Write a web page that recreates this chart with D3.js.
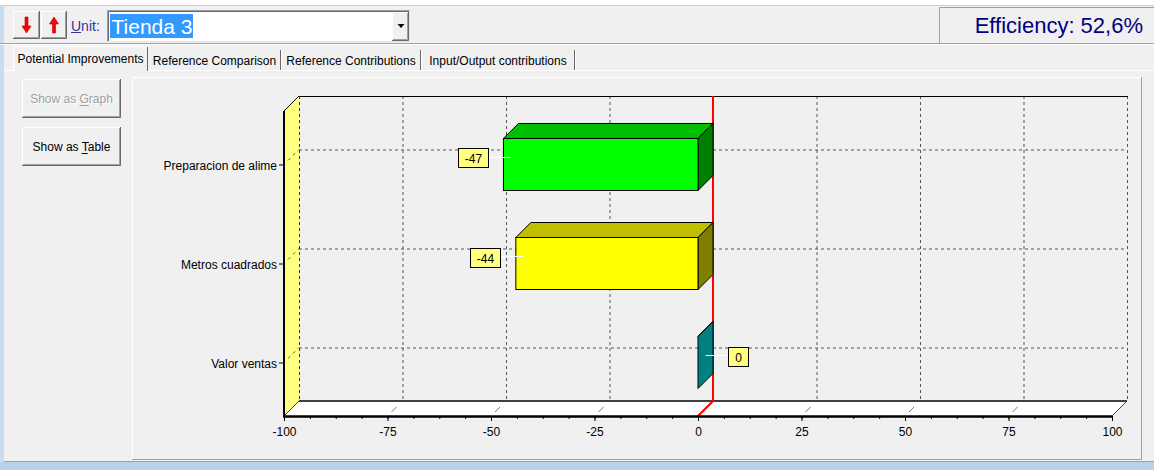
<!DOCTYPE html>
<html><head><meta charset="utf-8">
<script src="https://cdn.jsdelivr.net/npm/d3@7"></script>
<style>
html,body{margin:0;padding:0;background:#f0f0f0;overflow:hidden}
svg{display:block;font-family:"Liberation Sans",Arial,sans-serif}
</style>
</head><body>
<svg id="c" width="1154" height="470"></svg>
<script>
// ---------- data ----------
const categories = ["Preparacion de alime", "Metros cuadrados", "Valor ventas"];
const values = [-47, -44, 0];
const seriesColors = ["#00ff00", "#ffff00", "#00ffff"];
const xTickValues = [-100, -75, -50, -25, 0, 25, 50, 75, 100];
const unitName = "Tienda 3";
const efficiencyLabel = "Efficiency: 52,6%";
const tabLabels = ["Potential Improvements", "Reference Comparison", "Reference Contributions", "Input/Output contributions"];
const buttonLabels = ["Show as Graph", "Show as Table"];

const svg = d3.select("#c");
const fmt = v => String(Math.round(v));

// ---------- window chrome ----------
svg.append("rect").attr("x",0).attr("y",0).attr("width",1154).attr("height",470).attr("fill","#f0f0f0");
svg.append("rect").attr("x",0).attr("y",0).attr("width",1154).attr("height",5).attr("fill","#ffffff");
svg.append("rect").attr("x",0).attr("y",5).attr("width",1154).attr("height",1).attr("fill","#b9d1ea");
svg.append("rect").attr("x",0).attr("y",5).attr("width",4).attr("height",465).attr("fill","#c9dcf0");
svg.append("rect").attr("x",0).attr("y",462).attr("width",1154).attr("height",8).attr("fill","#b9d1ea");

const ui = svg.append("g");

function raised(g, x0, y0, w, h) {
  g.append("rect").attr("x",x0).attr("y",y0).attr("width",w).attr("height",h).attr("fill","#f0f0f0");
  g.append("path").attr("d",`M${x0+0.5},${y0+h}V${y0+0.5}H${x0+w}`).attr("stroke","#ffffff").attr("fill","none");
  g.append("path").attr("d",`M${x0},${y0+h-0.5}H${x0+w-0.5}V${y0}`).attr("stroke","#696969").attr("fill","none");
  g.append("path").attr("d",`M${x0+1},${y0+h-1.5}H${x0+w-1.5}V${y0+1}`).attr("stroke","#a0a0a0").attr("fill","none");
}

// arrow buttons
raised(ui, 13, 11, 27, 28);
raised(ui, 41, 11, 26, 28);
function arrow(cx, cy, down) {
  const s = down ? 1 : -1;
  const d = `M${cx-1.5},${cy-8*s}V${cy+1*s}H${cx-4.5}L${cx},${cy+8*s}L${cx+4.5},${cy+1*s}H${cx+1.5}V${cy-8*s}Z`;
  ui.append("path").attr("d",d).attr("fill","#ff0000").attr("stroke","#b00000").attr("stroke-width",0.6);
}
arrow(26.5, 25, true);
arrow(54, 25, false);

// Unit label
const unitT = ui.append("text").attr("x",71).attr("y",31).attr("font-size",14).attr("fill","#333399").text("Unit:");
const uW = unitT.node().getSubStringLength(0,1);
ui.append("line").attr("x1",71).attr("x2",71+uW).attr("y1",32.5).attr("y2",32.5).attr("stroke","#333399");

// combo box
ui.append("rect").attr("x",107).attr("y",10).attr("width",303).attr("height",32).attr("fill","#ffffff");
ui.append("path").attr("d","M107.5,42V10.5H410").attr("stroke","#a0a0a0").attr("fill","none");
ui.append("path").attr("d","M108.5,41V11.5H409").attr("stroke","#696969").attr("fill","none");
ui.append("path").attr("d","M107,41.5H409.5V10").attr("stroke","#e3e3e3").attr("fill","none");
raised(ui, 392, 12, 17, 29);
ui.append("path").attr("d","M397.5,24L404.5,24L401,28Z").attr("fill","#000");
ui.append("rect").attr("x",110).attr("y",14).attr("width",83).attr("height",24).attr("fill","#3399ff");
ui.append("text").attr("x",111.5).attr("y",34).attr("font-size",21).attr("fill","#ffffff").text(unitName);

// efficiency box
ui.append("path").attr("d","M939.5,43V7.5H1154").attr("stroke","#a0a0a0").attr("fill","none");
ui.append("text").attr("x",1143).attr("y",33).attr("text-anchor","end").attr("font-size",22).attr("fill","#000080").text(efficiencyLabel);

// separator
ui.append("line").attr("x1",0).attr("x2",1154).attr("y1",43.5).attr("y2",43.5).attr("stroke","#a0a0a0");
ui.append("line").attr("x1",0).attr("x2",1154).attr("y1",44.5).attr("y2",44.5).attr("stroke","#ffffff");

// tabs
const tabEdges = [13, 148, 281, 421, 575];
ui.append("line").attr("x1",4).attr("x2",1154).attr("y1",70.5).attr("y2",70.5).attr("stroke","#ffffff");
tabLabels.forEach((t, i) => {
  const a = tabEdges[i], b = tabEdges[i+1];
  if (i === 0) {
    ui.append("rect").attr("x",a).attr("y",46).attr("width",b-a).attr("height",26).attr("fill","#f0f0f0");
    ui.append("path").attr("d",`M${a+0.5},72V46.5H${b-1}`).attr("stroke","#ffffff").attr("fill","none");
    ui.append("line").attr("x1",b-0.5).attr("x2",b-0.5).attr("y1",47).attr("y2",71).attr("stroke","#696969");
    ui.append("text").attr("x",(a+b)/2).attr("y",63).attr("text-anchor","middle").attr("font-size",12).attr("fill","#000").text(t);
  } else {
    ui.append("line").attr("x1",b-0.5).attr("x2",b-0.5).attr("y1",50).attr("y2",70).attr("stroke","#696969");
    ui.append("line").attr("x1",b+0.5).attr("x2",b+0.5).attr("y1",50).attr("y2",70).attr("stroke","#ffffff");
    ui.append("text").attr("x",(a+b)/2).attr("y",65).attr("text-anchor","middle").attr("font-size",12).attr("fill","#000").text(t);
  }
});

// side buttons
buttonLabels.forEach((t, i) => {
  const y0 = 79 + i*48;
  raised(ui, 22, y0, 99, 39);
  const ul = 8; // index of underlined letter
  const col = i === 0 ? "#a0a0a0" : "#000000";
  if (i === 0) ui.append("text").attr("x",72.5).attr("y",y0+25).attr("text-anchor","middle").attr("font-size",12).attr("fill","#ffffff").text(t);
  const tx = ui.append("text").attr("x",71.5).attr("y",y0+24).attr("text-anchor","middle").attr("font-size",12).attr("fill",col).text(t);
  const n = tx.node();
  const st = n.getStartPositionOfChar(ul).x, w = n.getSubStringLength(ul,1);
  ui.append("line").attr("x1",st).attr("x2",st+w).attr("y1",y0+26.5).attr("y2",y0+26.5).attr("stroke",col);
});

// chart panel
ui.append("path").attr("d","M132.5,460V77.5H1142").attr("stroke","#ffffff").attr("fill","none");
ui.append("path").attr("d","M132,459.5H1141.5V77").attr("stroke","#a0a0a0").attr("fill","none");
ui.append("line").attr("x1",4).attr("x2",1154).attr("y1",461.5).attr("y2",461.5).attr("stroke","#a0a0a0");

// ---------- chart ----------
const DX = 15, DY = 15;
const x = d3.scaleLinear().domain([-100, 100]).range([284, 1112]);
const y = d3.scalePoint().domain(categories).range([111, 416]).padding(0.54);
const frontTop = 111, frontBot = 416;
const barH = 52;

const ch = svg.append("g");

// back wall grid
ch.selectAll(".vg").data(xTickValues).join("line")
  .attr("x1", d => x(d)+DX+0.5).attr("x2", d => x(d)+DX+0.5)
  .attr("y1", frontTop-DY).attr("y2", frontBot-DY)
  .attr("stroke","#555").attr("stroke-dasharray","3,3");
ch.selectAll(".hg").data(categories).join("line")
  .attr("x1", x(-100)+DX).attr("x2", x(100)+DX)
  .attr("y1", d => y(d)-DY+0.5).attr("y2", d => y(d)-DY+0.5)
  .attr("stroke","#555").attr("stroke-dasharray","3,3");
ch.append("line").attr("x1",x(-100)+DX).attr("x2",x(100)+DX+1).attr("y1",frontTop-DY+0.5).attr("y2",frontTop-DY+0.5).attr("stroke","#000");

// left wall
ch.append("path").attr("d",`M${x(-100)},${frontTop}L${x(-100)+DX},${frontTop-DY}V${frontBot-DY}L${x(-100)},${frontBot}Z`)
  .attr("fill","#ffff80");
ch.append("line").attr("x1",x(-100)+DX+0.5).attr("x2",x(-100)+DX+0.5).attr("y1",frontTop-DY).attr("y2",frontBot-DY)
  .attr("stroke","#333").attr("stroke-dasharray","3,3");
ch.append("line").attr("x1",x(-100)).attr("x2",x(-100)+DX).attr("y1",frontTop).attr("y2",frontTop-DY).attr("stroke","#000");
ch.selectAll(".lg").data(categories).join("line")
  .attr("x1", x(-100)+2).attr("x2", x(-100)+DX)
  .attr("y1", d => y(d)-2).attr("y2", d => y(d)-DY)
  .attr("stroke","#555").attr("stroke-dasharray","3,4").attr("stroke-dashoffset",-3);

// floor
ch.append("path").attr("d",`M${x(-100)},${frontBot}L${x(-100)+DX},${frontBot-DY}H${x(100)+DX}L${x(100)},${frontBot}Z`)
  .attr("fill","#ffffff");
ch.append("line").attr("x1",x(-100)+DX).attr("x2",x(100)+DX).attr("y1",frontBot-DY).attr("y2",frontBot-DY)
  .attr("stroke","#404040").attr("stroke-width",2);
ch.append("line").attr("x1",x(100)).attr("x2",x(100)+DX).attr("y1",frontBot).attr("y2",frontBot-DY).attr("stroke","#404040");
ch.append("line").attr("x1",x(-100)).attr("x2",x(-100)+DX).attr("y1",frontBot).attr("y2",frontBot-DY).attr("stroke","#404040");
ch.selectAll(".fg").data(xTickValues.slice(1, -1)).join("line")
  .attr("x1", d => x(d)+4).attr("x2", d => x(d)+9)
  .attr("y1", frontBot-4).attr("y2", frontBot-9)
  .attr("stroke","#777");

// zero line (red)
ch.append("path").attr("d",`M${x(0)+DX},${frontTop-DY}V${frontBot-DY}L${x(0)},${frontBot}`)
  .attr("stroke","#ff0000").attr("stroke-width",2).attr("fill","none");

// left wall front edge
ch.append("line").attr("x1",x(-100)).attr("x2",x(-100)).attr("y1",frontTop).attr("y2",frontBot+1)
  .attr("stroke","#000").attr("stroke-width",2);

// bars
function shade(c, k) { const r = d3.rgb(c); return d3.rgb(r.r*k, r.g*k, r.b*k).formatHex(); }
const bars = ch.selectAll(".bar").data(categories.map((c, i) => ({c, v: values[i], col: seriesColors[i]}))).join("g");
bars.each(function(d) {
  const g = d3.select(this);
  const x0 = x(Math.min(d.v, 0)), x1 = x(Math.max(d.v, 0));
  const cy = y(d.c), t = cy - barH/2, b = cy + barH/2;
  g.append("path").attr("d",`M${x0},${t}L${x0+DX},${t-DY}H${x1+DX}L${x1},${t}Z`)
    .attr("fill", shade(d.col, 0.75)).attr("stroke","#000").attr("stroke-linejoin","round");
  g.append("path").attr("d",`M${x1},${t}L${x1+DX},${t-DY}V${b-DY}L${x1},${b}Z`)
    .attr("fill", shade(d.col, 0.5)).attr("stroke","#000").attr("stroke-linejoin","round");
  if (x1 - x0 > 0.5)
    g.append("rect").attr("x",x0).attr("y",t).attr("width",x1-x0).attr("height",barH)
      .attr("fill", d.col).attr("stroke","#000");
});

// value marks
bars.each(function(d) {
  const g = d3.select(this);
  const px = x(d.v) + DX/2, py = y(d.c) - DY/2;
  const dir = d.v < 0 ? -1 : 1;
  const gap = d.v < 0 ? 23 : 22;
  const tx = g.append("text").attr("font-size",12).attr("text-anchor","middle").attr("fill","#000").text(fmt(d.v));
  const tw = tx.node().getComputedTextLength();
  const bw = Math.round(tw + 13), bh = 19;
  const bx = dir < 0 ? px - gap - bw : px + gap;
  const by = py + 1 - bh/2;
  g.append("line").attr("x1",px).attr("x2",px + dir*gap).attr("y1",py+0.5).attr("y2",py+0.5).attr("stroke","#ffffff");
  g.append("rect").attr("x",Math.round(bx)+0.5).attr("y",Math.round(by)+0.5).attr("width",bw).attr("height",bh)
    .attr("fill","#ffff80").attr("stroke","#000");
  tx.attr("x", Math.round(bx)+0.5+bw/2).attr("y", Math.round(by)+bh/2+5);
  tx.raise();
});

// bottom axis
const minorTicks = d3.range(-100, 100.001, 6.25);
const axMinor = ch.append("g").attr("transform",`translate(0,${frontBot})`)
  .call(d3.axisBottom(x).tickValues(minorTicks).tickSize(3).tickSizeOuter(0).tickFormat(""));
axMinor.select(".domain").remove();
axMinor.selectAll("line").attr("stroke","#000");
const axX = ch.append("g").attr("transform",`translate(0,${frontBot})`)
  .call(d3.axisBottom(x).tickValues(xTickValues).tickSize(5).tickSizeOuter(0).tickPadding(6).tickFormat(fmt));
axX.select(".domain").attr("stroke","#000").attr("stroke-width",2.5).attr("d",`M${x(-100)-1},0.5H${x(100)}`);
axX.selectAll("line").attr("stroke","#000");
axX.selectAll("text").attr("font-size",12).attr("font-family","Liberation Sans, Arial, sans-serif").attr("fill","#000");

// category axis
const axY = ch.append("g").attr("transform",`translate(${x(-100)},0)`)
  .call(d3.axisLeft(y).tickSize(5).tickSizeOuter(0).tickPadding(2));
axY.select(".domain").remove();
axY.selectAll("line").attr("stroke","#000");
axY.selectAll("text").attr("font-size",12).attr("font-family","Liberation Sans, Arial, sans-serif").attr("fill","#000").attr("dy","0.4em");
</script>
</body></html>
